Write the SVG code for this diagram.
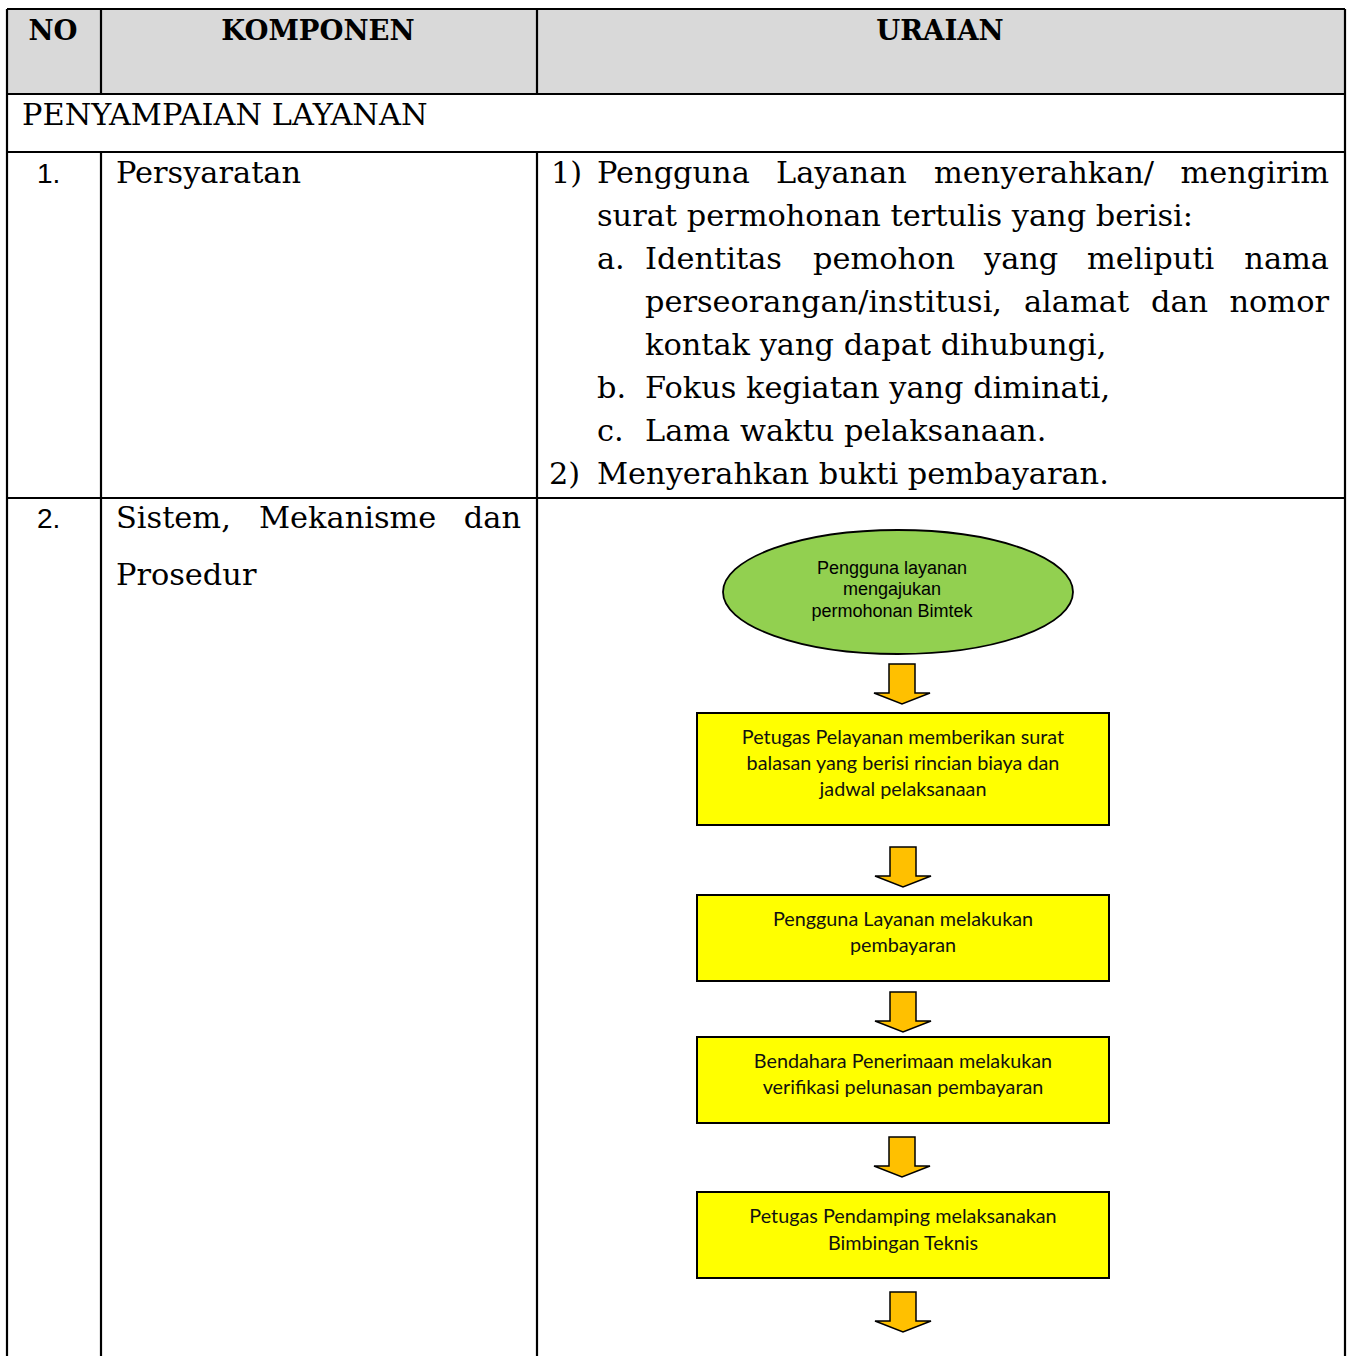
<svg xmlns="http://www.w3.org/2000/svg" width="1347" height="1356" viewBox="0 0 1347 1356">
  <defs>
    <style>
      .grid { stroke: #000; stroke-width: 2.2; fill: none; }
      .head { font-family: "DejaVu Serif", "Liberation Serif", serif; font-weight: bold; font-size: 27.5px; fill: #000; text-anchor: middle; }
      .body { font-family: "DejaVu Serif", "Liberation Serif", serif; font-size: 30.4px; fill: #000; }
      .end { text-anchor: end; }
      .num { font-family: "Liberation Sans", Arial, sans-serif; font-size: 28px; fill: #000; }
      .oval-text { font-family: "Liberation Sans", Arial, sans-serif; font-size: 18px; fill: #000; text-anchor: middle; }
      .box-text { font-family: "Lato", "Open Sans", sans-serif; font-size: 19.8px; fill: #111; text-anchor: middle; }
      .box { fill: #ffff00; stroke: #000; stroke-width: 2; }
      .arrow { fill: #ffc000; stroke: #000; stroke-width: 1.5; stroke-linejoin: miter; }
    </style>
    <!-- block arrow pointing down, tip at (0,0) -->
    <path id="down-arrow" d="M -13 -40 L 13 -40 L 13 -11 L 28 -11 L 0 0 L -28 -11 L -13 -11 Z"/>
  </defs>

  <rect width="1347" height="1356" fill="#fff"/>

  <!-- table -->
  <g id="table">
    <rect x="7" y="9" width="1338" height="85" fill="#d9d9d9"/>
    <line class="grid" x1="7" y1="9" x2="1345" y2="9"/>
    <line class="grid" x1="7" y1="94" x2="1345" y2="94"/>
    <line class="grid" x1="7" y1="152" x2="1345" y2="152"/>
    <line class="grid" x1="7" y1="498" x2="1345" y2="498"/>
    <line class="grid" x1="7" y1="9" x2="7" y2="1356"/>
    <line class="grid" x1="1345" y1="9" x2="1345" y2="1356"/>
    <line class="grid" x1="101" y1="9" x2="101" y2="94"/>
    <line class="grid" x1="537" y1="9" x2="537" y2="94"/>
    <line class="grid" x1="101" y1="152" x2="101" y2="1356"/>
    <line class="grid" x1="537" y1="152" x2="537" y2="1356"/>

    <text class="head" x="53" y="40">NO</text>
    <text class="head" x="318" y="40">KOMPONEN</text>
    <text class="head" x="940" y="40">URAIAN</text>

    <text class="body" x="22" y="125">PENYAMPAIAN LAYANAN</text>

    <!-- row 1 -->
    <text class="num" x="37" y="183">1.</text>
    <text class="body" x="116" y="183">Persyaratan</text>

    <text class="body" x="551" y="183">1)</text>
    <text class="body" y="183"><tspan x="597">Pengguna</tspan><tspan x="776">Layanan</tspan><tspan x="934">menyerahkan/</tspan></text>
    <text class="body end" x="1329" y="183">mengirim</text>
    <text class="body" x="597" y="226">surat permohonan tertulis yang berisi:</text>
    <text class="body" x="597" y="269">a.</text>
    <text class="body" y="269"><tspan x="645">Identitas</tspan><tspan x="813">pemohon</tspan><tspan x="984">yang</tspan><tspan x="1087">meliputi</tspan></text>
    <text class="body end" x="1329" y="269">nama</text>
    <text class="body" y="312"><tspan x="645">perseorangan/institusi,</tspan><tspan x="1024">alamat</tspan><tspan x="1151">dan</tspan></text>
    <text class="body end" x="1329" y="312">nomor</text>
    <text class="body" x="645" y="355">kontak yang dapat dihubungi,</text>
    <text class="body" x="597" y="398">b.</text>
    <text class="body" x="645" y="398">Fokus kegiatan yang diminati,</text>
    <text class="body" x="597" y="441">c.</text>
    <text class="body" x="645" y="441">Lama waktu pelaksanaan.</text>
    <text class="body" x="549" y="484">2)</text>
    <text class="body" x="597" y="484">Menyerahkan bukti pembayaran.</text>

    <!-- row 2 -->
    <text class="num" x="37" y="528">2.</text>
    <text class="body" y="528"><tspan x="116">Sistem,</tspan><tspan x="259">Mekanisme</tspan></text>
    <text class="body end" x="521" y="528">dan</text>
    <text class="body" x="116" y="585">Prosedur</text>
  </g>

  <!-- flow nodes -->
  <g id="node-request">
    <ellipse cx="898" cy="592" rx="175" ry="62" fill="#92d050" stroke="#000" stroke-width="1.8"/>
    <text class="oval-text" x="892" y="574">Pengguna layanan</text>
    <text class="oval-text" x="892" y="595">mengajukan</text>
    <text class="oval-text" x="892" y="617">permohonan Bimtek</text>
  </g>

  <g id="node-reply">
    <rect class="box" x="697" y="713" width="412" height="112"/>
    <text class="box-text" x="903" y="744">Petugas Pelayanan memberikan surat</text>
    <text class="box-text" x="903" y="770">balasan yang berisi rincian biaya dan</text>
    <text class="box-text" x="903" y="796">jadwal pelaksanaan</text>
  </g>

  <g id="node-payment">
    <rect class="box" x="697" y="895" width="412" height="86"/>
    <text class="box-text" x="903" y="926">Pengguna Layanan melakukan</text>
    <text class="box-text" x="903" y="952">pembayaran</text>
  </g>

  <g id="node-verify">
    <rect class="box" x="697" y="1037" width="412" height="86"/>
    <text class="box-text" x="903" y="1068">Bendahara Penerimaan melakukan</text>
    <text class="box-text" x="903" y="1094">verifikasi pelunasan pembayaran</text>
  </g>

  <g id="node-training">
    <rect class="box" x="697" y="1192" width="412" height="86"/>
    <text class="box-text" x="903" y="1223">Petugas Pendamping melaksanakan</text>
    <text class="box-text" x="903" y="1250">Bimbingan Teknis</text>
  </g>

  <!-- connectors -->
  <g id="connectors">
    <use href="#down-arrow" class="arrow" transform="translate(902,704)"/>
    <use href="#down-arrow" class="arrow" transform="translate(903,887)"/>
    <use href="#down-arrow" class="arrow" transform="translate(903,1032)"/>
    <use href="#down-arrow" class="arrow" transform="translate(902,1177)"/>
    <use href="#down-arrow" class="arrow" transform="translate(903,1332)"/>
  </g>
</svg>
